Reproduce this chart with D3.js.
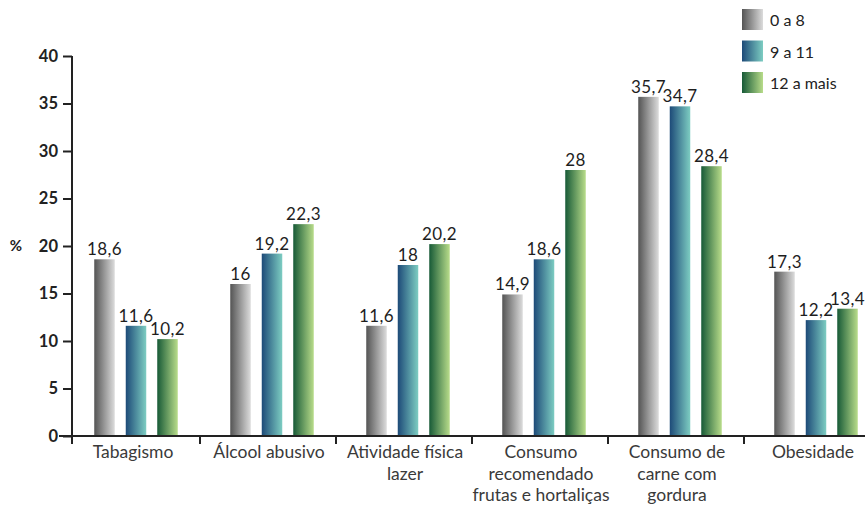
<!DOCTYPE html>
<html><head><meta charset="utf-8">
<script src="https://cdn.jsdelivr.net/npm/d3@7"></script>
<style>body{margin:0;background:#fff}svg{display:block}</style>
</head><body>
<script>
const categories = [["Tabagismo"],["Álcool abusivo"],["Atividade física","lazer"],["Consumo","recomendado","frutas e hortaliças"],["Consumo de","carne com","gordura"],["Obesidade"]];
const seriesNames = ["0 a 8","9 a 11","12 a mais"];
const s0a8 = [18.6,16,11.6,14.9,35.7,17.3];
const s9a11 = [11.6,19.2,18,18.6,34.7,12.2];
const s12mais = [10.2,22.3,20.2,28,28.4,13.4];
const yTicks = [0,5,10,15,20,25,30,35,40];

const W=865,H=505;
const svg=d3.select("body").append("svg").attr("width",W).attr("height",H);
const defs=svg.append("defs");
const grads=[["#545454","#dcdcdc"],["#1d4a78","#7dcdc2"],["#175a37","#b8dc8a"]];
grads.forEach((g,i)=>{
  const lg=defs.append("linearGradient").attr("id","g"+i).attr("x1","0").attr("x2","1").attr("y1","0").attr("y2","0");
  lg.append("stop").attr("offset","0").attr("stop-color",g[0]);
  lg.append("stop").attr("offset","1").attr("stop-color",g[1]);
});
const font="Lato, 'Open Sans', sans-serif";
const series=[s0a8,s9a11,s12mais];
const x0=d3.scaleBand().domain(d3.range(categories.length)).range([68,884]);
const y=d3.scaleLinear().domain([0,40]).range([436,56]);
const pitch=31.5, bw=20.5;
const x1=d3.scaleBand().domain(d3.range(3)).range([-pitch*1.5,pitch*1.5]);
const cx=i=>x0(i)+x0.bandwidth()/2;

// bars
series.forEach((vals,si)=>{
  const g=svg.append("g");
  g.selectAll("rect").data(vals).join("rect")
    .attr("x",(d,i)=>cx(i)+x1(si)+(pitch-bw)/2)
    .attr("width",bw)
    .attr("y",d=>y(d)).attr("height",d=>y(0)-y(d))
    .attr("fill","url(#g"+si+")");
  g.selectAll("text").data(vals).join("text")
    .attr("x",(d,i)=>cx(i)+x1(si)+pitch/2)
    .attr("y",d=>y(d)-4)
    .attr("text-anchor","middle")
    .attr("font-family",font).attr("font-size",17).attr("font-weight",400)
    .attr("letter-spacing",0.4).attr("fill","#1e1e1e")
    .text(d=>String(d).replace(".",","));
});

// y axis
const ya=svg.append("g").attr("transform","translate(72,0)")
  .call(d3.axisLeft(y).tickValues(yTicks).tickSize(9).tickPadding(5));
ya.select(".domain").attr("stroke","#222").attr("stroke-width",2).attr("d","M0,56V444");
ya.selectAll(".tick line").attr("stroke","#222").attr("stroke-width",2);
ya.selectAll(".tick text").attr("font-family",font).attr("font-size",16.5).attr("font-weight",700).attr("fill","#222");

// x axis
svg.append("line").attr("x1",59).attr("x2",W).attr("y1",436).attr("y2",436).attr("stroke","#222").attr("stroke-width",2);
const bounds=d3.range(1,categories.length).map(i=>x0(i)-4);
svg.selectAll(".xt").data(bounds).join("line").attr("x1",d=>d).attr("x2",d=>d)
  .attr("y1",436).attr("y2",444).attr("stroke","#222").attr("stroke-width",2);
categories.forEach((lines,i)=>{
  const t=svg.append("text").attr("text-anchor","middle")
    .attr("font-family",font).attr("font-size",17.5).attr("fill","#3a3a3a");
  lines.forEach((l,j)=>t.append("tspan").attr("x",cx(i)-3).attr("y",458+j*21.5).text(l));
});

// % label
svg.append("text").attr("x",16).attr("y",251).attr("text-anchor","middle")
  .attr("font-family",font).attr("font-size",15).attr("font-weight",700).attr("fill","#222").text("%");

// legend
seriesNames.forEach((n,i)=>{
  svg.append("rect").attr("x",742).attr("y",9+i*31.5).attr("width",21).attr("height",21).attr("fill","url(#g"+i+")");
  svg.append("text").attr("x",770).attr("y",26+i*31.5).attr("font-family",font).attr("font-size",16).attr("fill","#222").text(n);
});
</script>
</body></html>
